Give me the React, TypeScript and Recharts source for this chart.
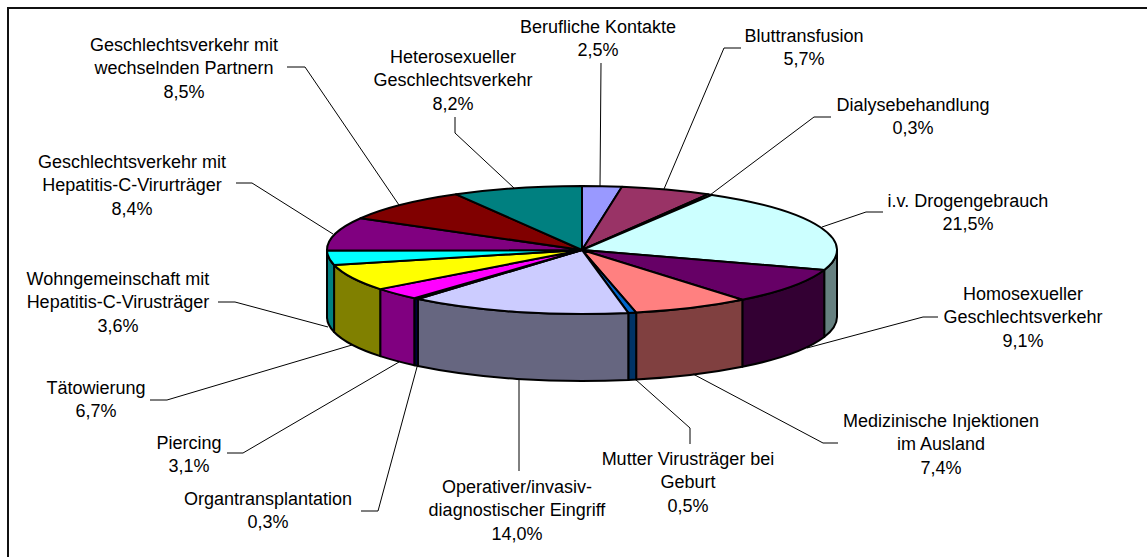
import { Pie, PieChart } from "recharts";

const names = [
  "Berufliche Kontakte",
  "Bluttransfusion",
  "Dialysebehandlung",
  "i.v. Drogengebrauch",
  "Homosexueller Geschlechtsverkehr",
  "Medizinische Injektionen im Ausland",
  "Mutter Virusträger bei Geburt",
  "Operativer/invasiv-diagnostischer Eingriff",
  "Organtransplantation",
  "Piercing",
  "Tätowierung",
  "Wohngemeinschaft mit Hepatitis-C-Virusträger",
  "Geschlechtsverkehr mit Hepatitis-C-Virurträger",
  "Geschlechtsverkehr mit wechselnden Partnern",
  "Heterosexueller Geschlechtsverkehr",
];
const shares = [2.5, 5.7, 0.3, 21.5, 9.1, 7.4, 0.5, 14.0, 0.3, 3.1, 6.7, 3.6, 8.4, 8.5, 8.2];
const topColors = [
  "#9999ff", "#993366", "#ffffcc", "#ccffff", "#660066",
  "#ff8080", "#0066cc", "#ccccff", "#000080", "#ff00ff",
  "#ffff00", "#00ffff", "#800080", "#800000", "#008080",
];
const sideColors = [
  "#4d4d80", "#4d1a33", "#808066", "#668080", "#330033",
  "#804040", "#003366", "#666680", "#000040", "#800080",
  "#808000", "#008080", "#400040", "#400000", "#004040",
];

const WIDTH = 1147;
const HEIGHT = 557;
const CX = 582;
const CY = 250;
const RX = 255;
const RY = 64;
const DEPTH = 67;

const data = names.map((name, i) => ({
  name,
  value: shares[i],
  fill: topColors[i],
  side: sideColors[i],
}));

// label placement, same order as names: centre x, first line y, wrapped text, leader line
const labelLayout = [
  { x: 598, y: 27, lines: ["Berufliche Kontakte"], leader: [[601, 63], [600, 187]] },
  { x: 804, y: 36, lines: ["Bluttransfusion"], leader: [[741, 48], [724, 48], [664, 189]] },
  { x: 913, y: 105, lines: ["Dialysebehandlung"], leader: [[831, 117], [814, 117], [710, 195]] },
  { x: 968, y: 201, lines: ["i.v. Drogengebrauch"], leader: [[883, 212], [866, 212], [822, 227]] },
  { x: 1023, y: 294, lines: ["Homosexueller", "Geschlechtsverkehr"], leader: [[938, 317], [923, 317], [807, 348]] },
  { x: 941, y: 421, lines: ["Medizinische Injektionen", "im Ausland"], leader: [[838, 443], [823, 443], [693, 374]] },
  { x: 688, y: 459, lines: ["Mutter Virusträger bei", "Geburt"], leader: [[690, 444], [690, 428], [635, 379]] },
  { x: 517, y: 487, lines: ["Operativer/invasiv-", "diagnostischer Eingriff"], leader: [[519, 471], [519, 380]] },
  { x: 268, y: 499, lines: ["Organtransplantation"], leader: [[361, 511], [378, 511], [417, 367]] },
  { x: 189, y: 443, lines: ["Piercing"], leader: [[227, 453], [243, 453], [399, 362]] },
  { x: 96, y: 388, lines: ["Tätowierung"], leader: [[150, 400], [167, 400], [352, 345]] },
  { x: 118, y: 279, lines: ["Wohngemeinschaft mit", "Hepatitis-C-Virusträger"], leader: [[218, 302], [235, 302], [328, 327]] },
  { x: 132, y: 162, lines: ["Geschlechtsverkehr mit", "Hepatitis-C-Virurträger"], leader: [[236, 183], [252, 183], [333, 234]] },
  { x: 184, y: 45, lines: ["Geschlechtsverkehr mit", "wechselnden Partnern"], leader: [[287, 67], [305, 67], [399, 205]] },
  { x: 453, y: 57, lines: ["Heterosexueller", "Geschlechtsverkehr"], leader: [[455, 117], [455, 133], [514, 188]] },
];

const RAD = Math.PI / 180;

// recharts angles run counter-clockwise from 3 o'clock; squash the circle onto the ellipse
const ellipsePoint = (cx: number, cy: number, angle: number) => ({
  x: cx + RX * Math.cos(angle * RAD),
  y: cy - RY * Math.sin(angle * RAD),
});

const TopSlice = (props: any) => {
  const { cx, cy, startAngle, endAngle, fill } = props;
  const a = ellipsePoint(cx, cy, startAngle);
  const b = ellipsePoint(cx, cy, endAngle);
  const large = Math.abs(startAngle - endAngle) > 180 ? 1 : 0;
  const d = `M${cx},${cy}L${a.x},${a.y}A${RX},${RY} 0 ${large} 1 ${b.x},${b.y}Z`;
  return <path d={d} fill={fill} stroke="#000" strokeWidth={2} strokeLinejoin="round" />;
};

const SideSlice = (props: any) => {
  const { cx, cy, startAngle, endAngle, payload } = props;
  // the visible wall is the front half only, angles 180..360 (here -180..0)
  const from = Math.min(startAngle, 0);
  const to = Math.max(endAngle, -180);
  if (from <= to) return <g />;
  const a = ellipsePoint(cx, cy, from);
  const b = ellipsePoint(cx, cy, to);
  const d =
    `M${a.x},${a.y}A${RX},${RY} 0 0 1 ${b.x},${b.y}` +
    `L${b.x},${b.y + DEPTH}A${RX},${RY} 0 0 0 ${a.x},${a.y + DEPTH}Z`;
  return <path d={d} fill={payload.side} stroke="#000" strokeWidth={2} strokeLinejoin="round" />;
};

const SliceLabel = (props: any) => {
  const { index } = props;
  const layout = labelLayout[index];
  const text = [...layout.lines, `${shares[index].toFixed(1).replace(".", ",")}%`];
  return (
    <g>
      <polyline
        points={layout.leader.map((p) => p.join(",")).join(" ")}
        fill="none"
        stroke="#000"
        strokeWidth={1}
      />
      {text.map((line, i) => (
        <text
          key={i}
          x={layout.x}
          y={layout.y + i * 23.3}
          textAnchor="middle"
          dominantBaseline="central"
          fontFamily="'Liberation Sans', Arial, sans-serif"
          fontSize={18}
          fill="#000"
        >
          {line}
        </text>
      ))}
    </g>
  );
};

export default function App() {
  return (
    <div style={{ position: "absolute", left: 0, top: 0, width: WIDTH, height: HEIGHT, background: "#fff", overflow: "hidden" }}>
      {/* frame: only the top and left edges fall inside the picture */}
      <div
        style={{
          position: "absolute",
          left: 7,
          top: 7,
          width: 1200,
          height: 600,
          boxSizing: "border-box",
          border: "2px solid #111",
        }}
      />
      <div style={{ position: "absolute", left: 0, top: 0, width: WIDTH, height: HEIGHT }}>
        <PieChart width={WIDTH} height={HEIGHT} margin={{ top: 0, right: 0, bottom: 0, left: 0 }}>
          <Pie
            data={data}
            dataKey="value"
            nameKey="name"
            cx={CX}
            cy={CY}
            outerRadius={RX}
            startAngle={90}
            endAngle={-270}
            paddingAngle={0}
            shape={SideSlice}
            label={false}
            labelLine={false}
            isAnimationActive={false}
          />
          <Pie
            data={data}
            dataKey="value"
            nameKey="name"
            cx={CX}
            cy={CY}
            outerRadius={RX}
            startAngle={90}
            endAngle={-270}
            paddingAngle={0}
            shape={TopSlice}
            label={SliceLabel}
            labelLine={false}
            isAnimationActive={false}
          />
        </PieChart>
      </div>
    </div>
  );
}
